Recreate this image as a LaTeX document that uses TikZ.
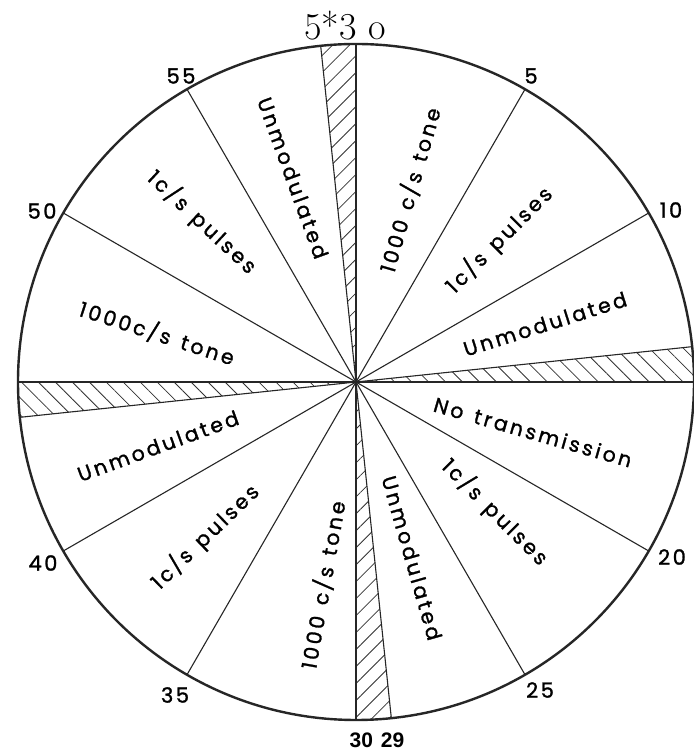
\documentclass[tikz,border=0pt]{standalone}
\usepackage{fontspec}
\newfontfamily\labfont{Poppins}[LetterSpace=14,FakeBold=1.3]
\newfontfamily\numfont{Poppins}[LetterSpace=12,FakeBold=1.3]
\newfontfamily\boldfont{Liberation Sans}
\usetikzlibrary{patterns.meta,calc}
\tikzset{
  lab/.style={font=\labfont\fontsize{20.5}{22}\selectfont, inner sep=0pt},
  num/.style={font=\numfont\fontsize{21}{23}\selectfont, inner sep=0pt},
  ray/.style={line width=1.1pt, black!85},
  rim/.style={line width=2.4pt, black!85},
  hatchA/.style={pattern={Lines[angle=45,distance=12pt,line width=0.8pt]}, pattern color=black!80},
  hatchB/.style={pattern={Lines[angle=-45,distance=12pt,line width=0.8pt]}, pattern color=black!80},
}
\begin{document}
\begin{tikzpicture}[x=1pt,y=1pt]
\useasboundingbox (0,0) rectangle (693,751);
\fill[white] (0,0) rectangle (693,751);
\coordinate (O) at (356,751-382);
% hatched wedges
\fill[hatchA] (O) -- ++(96:338) arc[start angle=96, end angle=90, radius=338] -- cycle;
\fill[hatchB] (O) -- ++(6:338) arc[start angle=6, end angle=0, radius=338] -- cycle;
\fill[hatchA] (O) -- ++(-84:338) arc[start angle=-84, end angle=-90, radius=338] -- cycle;
\fill[hatchB] (O) -- ++(-174:338) arc[start angle=-174, end angle=-180, radius=338] -- cycle;
% rays
\foreach \m in {0,5,10,14,15,20,25,29,30,35,40,44,45,50,55,59}{
  \coordinate (m\m) at ($(O)+({90-6*\m}:338)$);
  \draw[ray] (O) -- (m\m);
}
\node[rim, circle, draw, minimum size=676pt, inner sep=0pt] (rimc) at (O) {};
% sector labels
\node[lab, rotate=74]  (l1)  at (410,751-190) {1000 \hspace{3pt}c/s \hspace{3pt}tone};
\node[lab, rotate=45]  (l2)  at (499,751-240) {1\hspace{3pt}c/s \hspace{3pt}pulses};
\node[lab, rotate=17.5](l3)  at (545,751-324) {Unmodulated};
\node[lab, rotate=-16] (l4)  at (533,751-432) {No \hspace{3pt}transmission};
\node[lab, rotate=-45] (l5)  at (495,751-512) {1\hspace{3pt}c/s \hspace{3pt}pulses};
\node[lab, rotate=-74] (l6)  at (412,751-558) {Unmodulated};
\node[lab, rotate=80]  (l7)  at (323,751-585) {1000 \hspace{3pt}c/s \hspace{3pt}tone};
\node[lab, rotate=44]  (l8)  at (205,751-537) {1\hspace{3pt}c/s \hspace{3pt}pulses};
\node[lab, rotate=20]  (l9)  at (158,751-446) {Unmodulated};
\node[lab, rotate=-18] (l10) at (157,751-333) {1000\hspace{3pt}c/s \hspace{3pt}tone};
\node[lab, rotate=-43] (l11) at (202,751-222) {1\hspace{3pt}c/s \hspace{3pt}pulses};
\node[lab, rotate=-70] (l12) at (293,751-178) {Unmodulated};
% minute numbers
\node[num] (n55) at (181,751-76) {55};
\node[num] (n5)  at (531,751-76) {5};
\node[num] (n10) at (671,751-210) {10};
\node[num] (n50) at (42,751-211) {50};
\node[num] (n20) at (672,751-557) {20};
\node[num] (n40) at (43,751-563) {40};
\node[num] (n25) at (540,751-690) {25};
\node[num] (n35) at (175,751-695) {35};
\node[font=\boldfont\bfseries\fontsize{21}{23}\selectfont, inner sep=0pt] (n30) at (377,751-740) {30 \hspace{2pt}29};
\node[font=\fontsize{38}{42}\selectfont, inner sep=0pt] (ntop) at (345,751-26) {5*3 o};
\end{tikzpicture}
\end{document}
